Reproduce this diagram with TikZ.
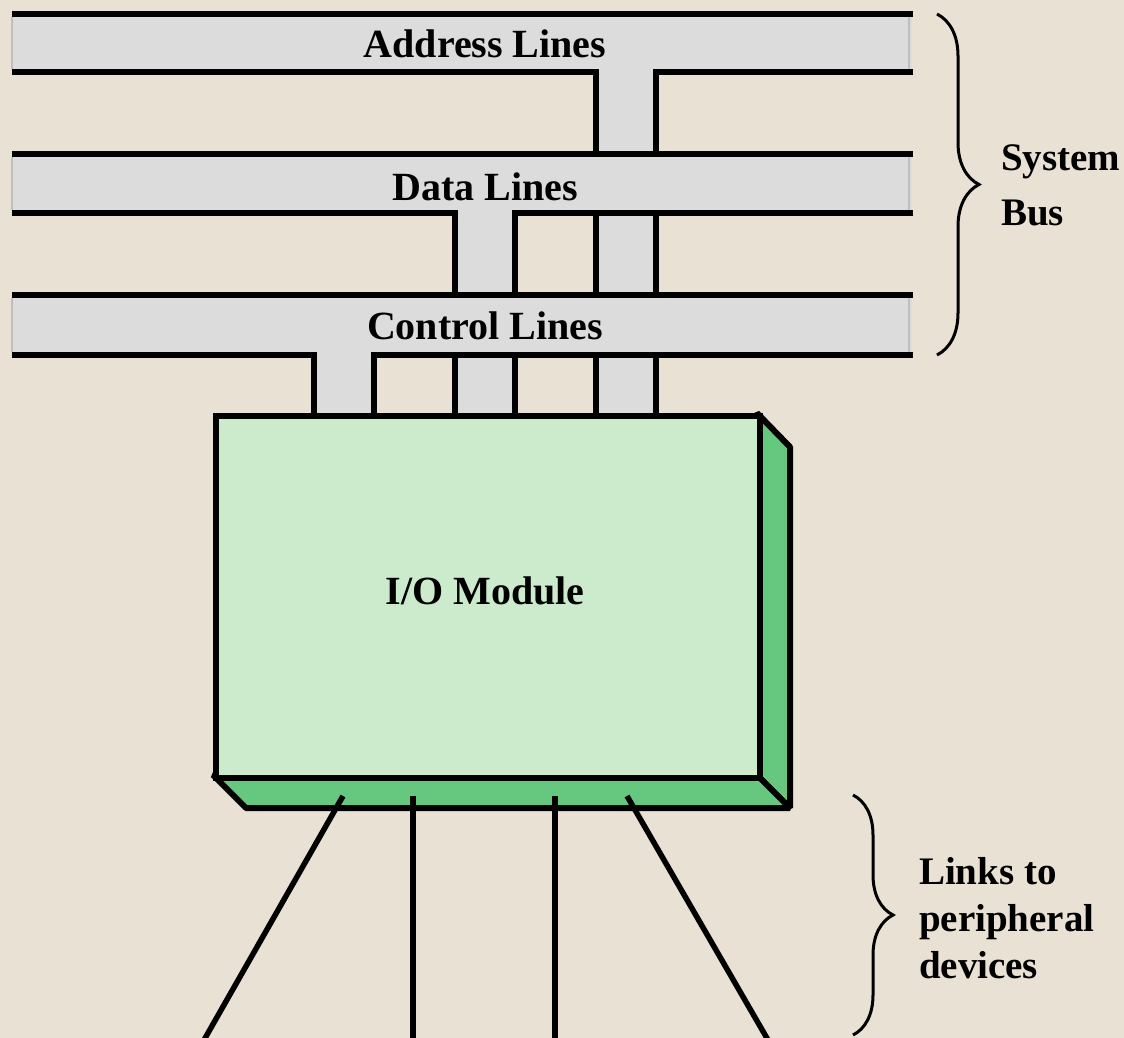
\documentclass[tikz,border=0pt]{standalone}
\usepackage{fontspec}
\setmainfont{Liberation Serif}
\usetikzlibrary{decorations.pathreplacing}
\definecolor{bg}{RGB}{232,225,212}
\definecolor{busgray}{RGB}{220,220,220}
\definecolor{busedge}{RGB}{190,190,190}
\definecolor{frontgreen}{RGB}{204,235,204}
\definecolor{sidegreen}{RGB}{102,200,127}
\begin{document}
\begin{tikzpicture}[x=1pt,y=-1pt,line width=6pt,line join=miter,
  lbl/.style={font=\fontsize{40}{48}\selectfont\bfseries,inner sep=0pt},
  sidelbl/.style={inner sep=0pt,anchor=west,align=left,font=\fontsize{39}{47}\selectfont\bfseries},
  busedgeline/.style={draw=busedge,line width=1.2pt},
  bracestyle/.style={line width=3pt,decorate},
  link/.style={line width=5.5pt,line cap=butt}]
\fill[bg] (0,0) rectangle (1124,1038);
\useasboundingbox (0,0) rectangle (1124,1038);

% ---- stems (drawn first, buses cover them) ----
% address stem
\fill[busgray] (596,72) rectangle (656,413);
\draw (596,72) -- (596,413) (656,72) -- (656,413);
% data stem
\fill[busgray] (455,213) rectangle (515,413);
\draw (455,213) -- (455,413) (515,213) -- (515,413);
% control stem
\fill[busgray] (314,355) rectangle (374,413);
\draw (314,355) -- (314,413) (374,355) -- (374,413);

% ---- Address bus ----
\fill[busgray] (12,14) rectangle (912,72);
\draw[busedgeline] (12,17) -- (12,69) (909,17) -- (909,69);
\draw (12,14) -- (913,14);
\draw (12,72) -| (596,100);
\draw (913,72) -| (656,100);
\node[lbl] (addr) at (485,44) {Address Lines};

% ---- Data bus ----
\fill[busgray] (12,154) rectangle (912,213);
\draw[busedgeline] (12,157) -- (12,210) (909,157) -- (909,210);
\draw (12,154) -- (913,154);
\draw (12,213) -| (455,240);
\draw (913,213) -| (515,240);
\node[lbl] (data) at (485,187) {Data Lines};

% ---- Control bus ----
\fill[busgray] (12,295) rectangle (912,355);
\draw[busedgeline] (12,298) -- (12,352) (909,298) -- (909,352);
\draw (12,295) -- (913,295);
\draw (12,355) -| (314,380);
\draw (913,355) -| (374,380);
\node[lbl] (ctrl) at (485,326) {Control Lines};

% ---- I/O module box ----
\draw[fill=sidegreen,line join=bevel] (757,413) -- (790,447) -- (790,808) -- (757,775) -- cycle;
\draw[fill=sidegreen,line join=bevel] (213,775) -- (246,808) -- (790,808) -- (757,775) -- cycle;
\node[draw,fill=frontgreen,line width=6pt,anchor=north west,
      minimum width=544pt,minimum height=362pt,inner sep=0pt] (io) at (213,413) {};
\node[lbl] (iolbl) at (485,591) {I/O Module};

% ---- links to peripheral devices ----
\coordinate (l1a) at (343,796); \coordinate (l1b) at (204,1040);
\coordinate (l2a) at (413,796); \coordinate (l2b) at (413,1040);
\coordinate (l3a) at (555,796); \coordinate (l3b) at (555,1040);
\coordinate (l4a) at (627,796); \coordinate (l4b) at (768,1040);
\draw[link] (l1a) -- (l1b);
\draw[link] (l2a) -- (l2b);
\draw[link] (l3a) -- (l3b);
\draw[link] (l4a) -- (l4b);

% ---- braces ----
\coordinate (sb1) at (937,14); \coordinate (sb2) at (937,355);
\draw[bracestyle,decoration={brace,amplitude=42pt}] (sb1) -- (sb2);
\node[sidelbl,font=\fontsize{39}{55}\selectfont\bfseries] (sysbus) at (998,185) {System\\Bus};

\coordinate (lb1) at (853,795); \coordinate (lb2) at (853,1035);
\draw[bracestyle,decoration={brace,amplitude=40pt}] (lb1) -- (lb2);
\node[sidelbl] (links) at (916,918) {Links to\\peripheral\\devices};
\end{tikzpicture}
\end{document}
